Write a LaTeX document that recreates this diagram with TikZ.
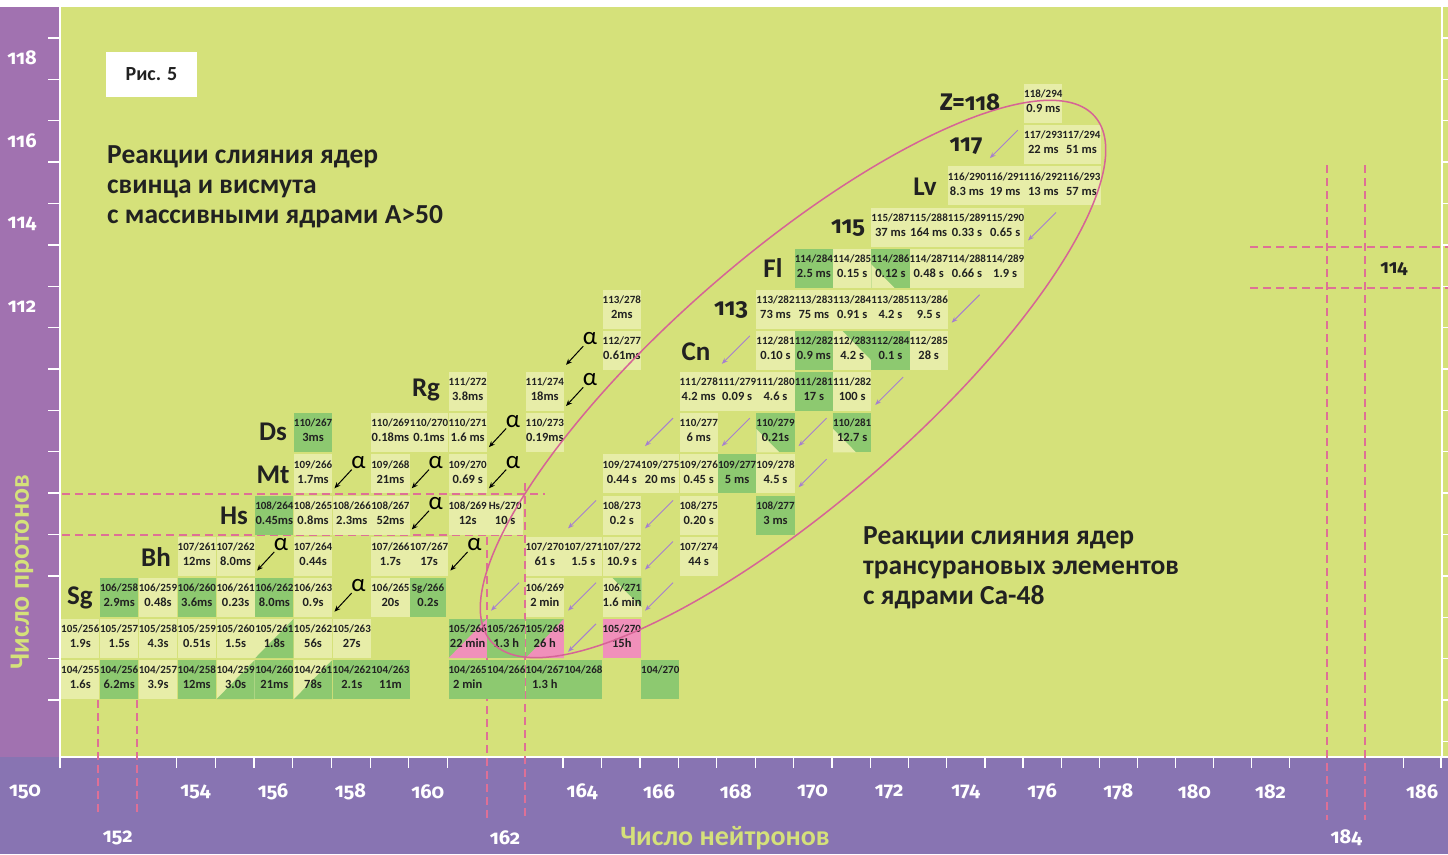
\documentclass[tikz,border=0pt]{standalone}
\usepackage{fontspec}
\setmainfont{Carlito}
\newfontfamily\oldnum[Numbers={OldStyle,Proportional}]{Fira Sans}
\usetikzlibrary{arrows.meta,calc,positioning}

\definecolor{chartbg}{HTML}{D5E17A}
\definecolor{cellpale}{HTML}{E7EDA8}
\definecolor{cellgreen}{HTML}{8DC970}
\definecolor{cellpink}{HTML}{F090BA}
\definecolor{stripleft}{HTML}{A172B0}
\definecolor{stripbottom}{HTML}{8874B2}
\definecolor{loopline}{HTML}{D66496}
\definecolor{guide}{HTML}{DE7096}
\definecolor{decay}{HTML}{A67FCF}

\newcommand\isofont{\fontsize{11}{11.5}\selectfont}
\newcommand\lifefont{\fontsize{12.5}{15}\selectfont}

\begin{document}
\begin{tikzpicture}[x=1pt,y=-1pt,
  declare function={nx(\q)=60+38.885*(\q-151)-0.01455*(\q-151)^2;
                    zy(\q)=84+41.14*(118-\q);},
  cell/.style={
    minimum width=36pt,
    minimum height=39pt,
    inner sep=0pt,
    align=center,
    anchor=north west,
    text=black!87,
    font=\bfseries\lifefont
  },
  pl/.style={cell,fill=cellpale},
  gr/.style={cell,fill=cellgreen},
  pk/.style={cell,fill=cellpink},
  lg/.style={cell,fill=cellpale,path picture={
    \fill[cellgreen] (path picture bounding box.north east) -- (path picture bounding box.south east)
      -- (path picture bounding box.south west) -- cycle;}},
  pg/.style={cell,fill=cellpale,path picture={
    \fill[cellgreen] ($(path picture bounding box.north west)!0.25!(path picture bounding box.north east)$)
      -- (path picture bounding box.north east)
      -- ($(path picture bounding box.north east)!0.75!(path picture bounding box.south east)$) -- cycle;}},
  gp/.style={cell,fill=cellgreen,path picture={
    \fill[cellpink] (path picture bounding box.north east) -- (path picture bounding box.south east)
      -- (path picture bounding box.south west) -- cycle;}},
  gl/.style={cell,fill=cellgreen,path picture={
    \fill[cellpale] ($(path picture bounding box.north west)!0.4!(path picture bounding box.south west)$)
      -- (path picture bounding box.south west)
      -- ($(path picture bounding box.south west)!0.6!(path picture bounding box.south east)$) -- cycle;}},
  elem/.style={font=\bfseries\fontsize{27}{27}\selectfont,text=black!87,inner sep=0pt},
  elemnum/.style={font=\oldnum\bfseries\fontsize{24}{24}\selectfont,text=black!87,inner sep=0pt},
  heading/.style={font=\bfseries\fontsize{27.5}{30}\selectfont,text=black!87,align=left,anchor=west,inner sep=0pt},
  axisnum/.style={font=\oldnum\bfseries\fontsize{20}{20}\selectfont,text=white,inner sep=0pt},
  axistitle/.style={font=\bfseries\fontsize{28}{28}\selectfont,text=chartbg,inner sep=0pt},
  alphalab/.style={font=\fontsize{25}{25}\selectfont,inner sep=1pt},
  alphaarrow/.style={-{Stealth[length=6pt,width=5pt]},line width=1pt,black},
  decayarrow/.style={-{Stealth[length=6pt,width=4.5pt]},line width=0.9pt,decay},
  guideline/.style={guide,line width=1.4pt,dash pattern=on 8pt off 5pt},
  tick/.style={white,line width=1.3pt}
]
\useasboundingbox (0,0) rectangle (1448,854);
% frame of the chart
\fill[white] (0,0) rectangle (1448,854);
\fill[chartbg] (60,7) rectangle (1448,757);
\fill[stripleft] (0,7) rectangle (60,757);
\fill[stripbottom] (0,757) rectangle (1448,854);
\draw[white,line width=2pt] (60,7) -- (60,768);
\draw[white,line width=2pt] (60,757) -- (1448,757);
\draw[white,line width=2pt] (1442,7) -- (1442,757);
\foreach \j in {0,...,13,15,16}
  \draw[tick] (48,{38+41.375*\j}) -- (60,{38+41.375*\j});
\foreach \j in {0,...,17}
  \draw[tick] (1442,{38+41.375*\j}) -- (1448,{38+41.375*\j});
\foreach \k in {3,...,10,13,14,...,32,35,36}
  \draw[tick] ({nx(151+\k)},757) -- ({nx(151+\k)},768);

% axis numbers
\node[axisnum] (z118) at (22,58) {118};
\node[axisnum] (z116) at (22,141) {116};
\node[axisnum] (z114) at (22,224) {114};
\node[axisnum] (z112) at (22,307) {112};
\node[axisnum] (n150) at (25,792) {150};
\foreach \n/\y in {152/838,154/792,156/792,158/792,160/792,162/838,164/792,166/792,168/792,
                   170/792,172/792,174/792,176/792,178/792,180/792,182/792,184/838,186/792}
  \node[axisnum] (n\n) at ({nx(\n)+19},\y) {\n};
\node[axistitle] (xtitle) at (725,838) {Число нейтронов};
\node[axistitle,rotate=90] (ytitle) at (22,572) {Число протонов};

% magic-number guides
\draw[guideline] (62,494) -- (545,494);
\draw[guideline] (62,535) -- (523,535);
\draw[guideline] (98,700) -- (98,815);
\draw[guideline] (137,700) -- (137,815);
\draw[guideline] (487,537) -- (487,820);
\draw[guideline] (525,483) -- (525,820);
\draw[guideline] (1327,165) -- (1327,820);
\draw[guideline] (1365,165) -- (1365,820);
\draw[guideline] (1250,247) -- (1448,247);
\draw[guideline] (1250,288) -- (1448,288);
\node[font=\oldnum\bfseries\fontsize{19}{19}\selectfont,text=black!87] (z114r) at (1394,269) {114};

% nuclides
\foreach \n/\z/\life/\kind in {
  151/104/1.6s/pl, 152/104/6.2ms/gr, 153/104/3.9s/pl, 154/104/12ms/gr, 155/104/3.0s/lg,
  156/104/21ms/gr, 157/104/78s/lg, 158/104/2.1s/gr, 159/104/11m/gr, 161/104/2 min/gr,
  162/104/{}/gr, 163/104/1.3 h/gr, 164/104/{}/gr, 166/104/{}/gr,
  151/105/1.9s/pl, 152/105/1.5s/pl, 153/105/4.3s/pl, 154/105/0.51s/pl, 155/105/1.5s/pl,
  156/105/1.8s/lg, 157/105/56s/pl, 158/105/27s/pl, 161/105/22 min/gp, 162/105/1.3 h/gr,
  163/105/26 h/gp, 165/105/15h/pk,
  152/106/2.9ms/gr, 153/106/0.48s/pl, 154/106/3.6ms/gr, 155/106/0.23s/pl, 156/106/8.0ms/gr,
  157/106/0.9s/pl, 159/106/20s/pl, 163/106/2 min/pl, 165/106/1.6 min/pg,
  154/107/12ms/pl, 155/107/8.0ms/pl, 157/107/0.44s/pl, 159/107/1.7s/pl, 160/107/17s/pl,
  163/107/61 s/pl, 164/107/1.5 s/pl, 165/107/10.9 s/pl, 167/107/44 s/pl,
  156/108/0.45ms/gr, 157/108/0.8ms/pl, 158/108/2.3ms/pl, 159/108/52ms/pl, 161/108/12s/pl,
  165/108/0.2 s/pl, 167/108/0.20 s/pl, 169/108/3 ms/gr,
  157/109/1.7ms/pl, 159/109/21ms/pl, 161/109/0.69 s/pl, 165/109/0.44 s/pl, 166/109/20 ms/pl,
  167/109/0.45 s/pl, 168/109/5 ms/gr, 169/109/4.5 s/pl,
  157/110/3ms/gr, 159/110/0.18ms/pl, 160/110/0.1ms/pl, 161/110/1.6 ms/pl, 163/110/0.19ms/pl,
  167/110/6 ms/pl, 169/110/0.21s/gl, 171/110/12.7 s/gl,
  161/111/3.8ms/pl, 163/111/18ms/pl, 167/111/4.2 ms/pl, 168/111/0.09 s/pl, 169/111/4.6 s/pl,
  170/111/17 s/gr, 171/111/100 s/pl,
  165/112/0.61ms/pl, 169/112/0.10 s/pl, 170/112/0.9 ms/gr, 171/112/4.2 s/pg, 172/112/0.1 s/gr,
  173/112/28 s/pl,
  165/113/2ms/pl, 169/113/73 ms/pl, 170/113/75 ms/pl, 171/113/0.91 s/pl, 172/113/4.2 s/pl,
  173/113/9.5 s/pl,
  170/114/2.5 ms/gr, 171/114/0.15 s/pl, 172/114/0.12 s/gl, 173/114/0.48 s/pl, 174/114/0.66 s/pl,
  175/114/1.9 s/pl,
  172/115/37 ms/pl, 173/115/164 ms/pl, 174/115/0.33 s/pl, 175/115/0.65 s/pl,
  174/116/8.3 ms/pl, 175/116/19 ms/pl, 176/116/13 ms/pl, 177/116/57 ms/pl,
  176/117/22 ms/pl, 177/117/51 ms/pl,
  176/118/0.9 ms/pl}{
  \pgfmathtruncatemacro\A{\n+\z}
  \node[\kind] (c\z-\n) at ({nx(\n)+1},{zy(\z)}) {{\isofont\z/\A}\\\strut\life};
}
\node[gr] (c106-160) at ({nx(160)+1},{zy(106)}) {{\isofont Sg/266}\\\strut 0.2s};
\node[pl] (c108-162) at ({nx(162)+1},{zy(108)}) {{\isofont Hs/270}\\\strut 10 s};

% element symbols
\node[elem] (el-Sg) at (80,598) {Sg};
\node[elem] (el-Bh) at (156,557) {Bh};
\node[elem] (el-Hs) at (234,516) {Hs};
\node[elem] (el-Mt) at (273,475) {Mt};
\node[elem] (el-Ds) at (273,432) {Ds};
\node[elem] (el-Rg) at (426,390) {Rg};
\node[elem] (el-Cn) at (696,352) {Cn};
\node[elemnum] (el-113) at (731,310) {113};
\node[elem] (el-Fl) at (773,268) {Fl};
\node[elemnum] (el-115) at (848,228) {115};
\node[elem] (el-Lv) at (925,187) {Lv};
\node[elemnum] (el-117) at (966,146) {117};
\node[elemnum] (el-118) at (970,102) {Z=118};

% alpha decays of the cold-fusion chains
\foreach \n/\z [count=\i] in {156/107,158/109,160/109,162/109,162/110,160/108,161/107,158/106,164/111,164/112}{
  \node[alphalab] (al\i) at ({nx(\n)+27},{zy(\z)+8}) {α};
  \coordinate (ae\i) at ({nx(\n)+3},{zy(\z)+34});
  \draw[alphaarrow] (al\i) -- (ae\i);
}
% decays of the hot-fusion chains
\foreach \n/\z [count=\i] in {166/110,168/110,170/110,170/109,172/111,168/112,174/113,176/115,175/117,
                              164/108,166/108,166/107,162/106,164/106,166/106,164/105}{
  \coordinate (ps\i) at ({nx(\n)+33},{zy(\z)+5});
  \coordinate (pe\i) at ({nx(\n)+5},{zy(\z)+33});
  \draw[decayarrow] (ps\i) -- (pe\i);
}

% Ca-48 region
\coordinate (loopc) at (793,379);
\draw[loopline,line width=1.5pt,rotate around={41:(loopc)}] (loopc) ellipse [x radius=400,y radius=124];

% captions
\node[fill=white,minimum width=91pt,minimum height=45pt,font=\bfseries\fontsize{20}{20}\selectfont,text=black!87]
  (fig) at (151.5,74.5) {Рис. 5};
\node[heading] (hd-cold) at (107,187) {Реакции слияния ядер\\свинца и висмута\\с массивными ядрами А>50};
\node[heading] (hd-hot) at (863,568) {Реакции слияния ядер\\трансурановых элементов\\с ядрами Ca-48};
\end{tikzpicture}
\end{document}
